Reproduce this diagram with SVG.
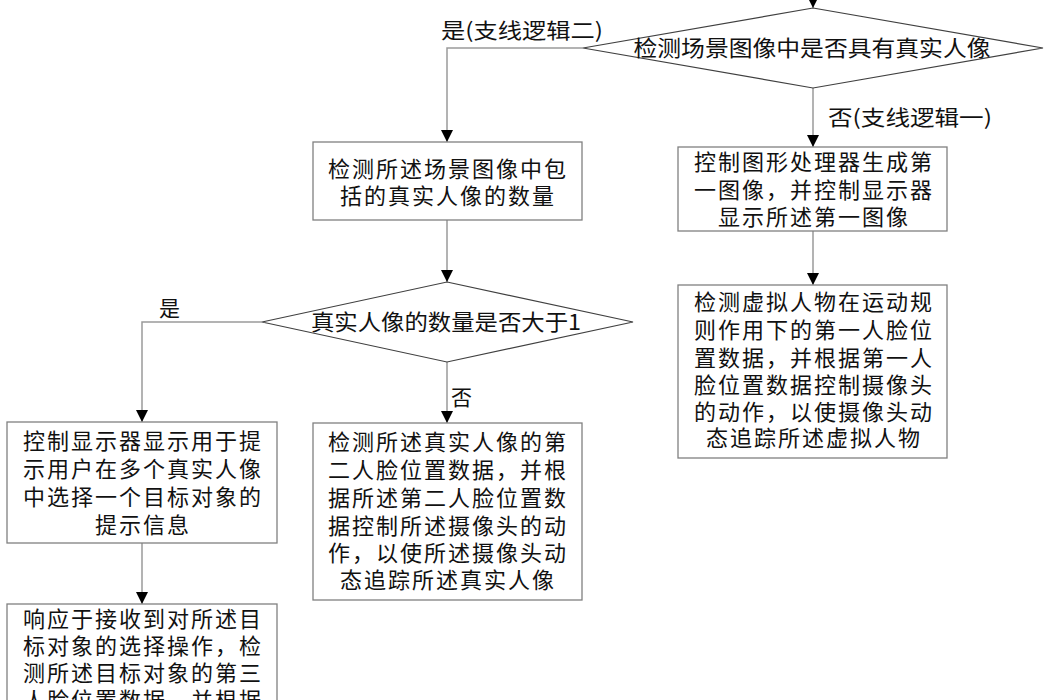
<svg xmlns="http://www.w3.org/2000/svg" width="1049" height="700" viewBox="0 0 1049 700">
<style>
.box{fill:#fff;stroke:#808080;stroke-width:1.3}
.dia{fill:#fff;stroke:#404040;stroke-width:1.2}
.con{fill:none;stroke:#9a9a9a;stroke-width:1.5}
text{font-family:"Noto Sans CJK SC","Noto Sans",sans-serif;fill:#111}
.t{font-size:22px;letter-spacing:2px;text-anchor:middle}
.d{font-size:22px;text-anchor:middle}
.l{font-size:21px}
</style>
<defs>
<marker id="ah" markerUnits="userSpaceOnUse" markerWidth="12" markerHeight="12" viewBox="0 0 12 12" refX="12" refY="6" orient="auto">
<path d="M0,0 L12,6 L0,12 Z" fill="#000"/>
</marker>
</defs>
<rect width="1049" height="700" fill="#fff"/>
<g id="connectors">
<path class="con" d="M813,-5 V8" marker-end="url(#ah)"/>
<path class="con" d="M583,48 H447 V142" marker-end="url(#ah)"/>
<path class="con" d="M813,88 V147" marker-end="url(#ah)"/>
<path class="con" d="M813,231 V285" marker-end="url(#ah)"/>
<path class="con" d="M447,220 V282" marker-end="url(#ah)"/>
<path class="con" d="M262,322 H142 V422" marker-end="url(#ah)"/>
<path class="con" d="M447,362 V423" marker-end="url(#ah)"/>
<path class="con" d="M142,543 V604" marker-end="url(#ah)"/>
<text class="l" x="441" y="38" textLength="162" lengthAdjust="spacingAndGlyphs">是(支线逻辑二)</text>
<text class="l" x="828" y="125" textLength="164" lengthAdjust="spacingAndGlyphs">否(支线逻辑一)</text>
<text class="l" x="159" y="316">是</text>
<text class="l" x="451" y="405">否</text>
</g>
<g id="decision1">
<polygon class="dia" points="813,8 1043,48 813,88 583,48"/>
<text class="d" x="812" y="56" textLength="357" lengthAdjust="spacingAndGlyphs">检测场景图像中是否具有真实人像</text>
</g>
<g id="box-count">
<rect class="box" x="313" y="142" width="269" height="78"/>
<text class="t" x="448" y="177">检测所述场景图像中包</text>
<text class="t" x="448" y="204">括的真实人像的数量</text>
</g>
<g id="box-gpu">
<rect class="box" x="678" y="147" width="269" height="84"/>
<text class="t" x="814" y="170">控制图形处理器生成第</text>
<text class="t" x="814" y="198">一图像，并控制显示器</text>
<text class="t" x="814" y="225">显示所述第一图像</text>
</g>
<g id="box-virtual">
<rect class="box" x="678" y="285" width="269" height="173"/>
<text class="t" x="814" y="310">检测虚拟人物在运动规</text>
<text class="t" x="814" y="338">则作用下的第一人脸位</text>
<text class="t" x="814" y="366">置数据，并根据第一人</text>
<text class="t" x="814" y="393">脸位置数据控制摄像头</text>
<text class="t" x="814" y="420">的动作，以使摄像头动</text>
<text class="t" x="814" y="446">态追踪所述虚拟人物</text>
</g>
<g id="decision2">
<polygon class="dia" points="447,282 633,322 447,362 262,322"/>
<text class="d" x="446" y="330" textLength="270" lengthAdjust="spacingAndGlyphs">真实人像的数量是否大于1</text>
</g>
<g id="box-prompt">
<rect class="box" x="7" y="422" width="270" height="121"/>
<text class="t" x="143" y="449">控制显示器显示用于提</text>
<text class="t" x="143" y="477">示用户在多个真实人像</text>
<text class="t" x="143" y="505">中选择一个目标对象的</text>
<text class="t" x="143" y="533">提示信息</text>
</g>
<g id="box-select">
<rect class="box" x="7" y="604" width="270" height="110"/>
<text class="t" x="143" y="627">响应于接收到对所述目</text>
<text class="t" x="143" y="654">标对象的选择操作，检</text>
<text class="t" x="143" y="681">测所述目标对象的第三</text>
<text class="t" x="143" y="708">人脸位置数据，并根据</text>
</g>
<g id="box-real">
<rect class="box" x="313" y="423" width="269" height="177"/>
<text class="t" x="448" y="450">检测所述真实人像的第</text>
<text class="t" x="448" y="478">二人脸位置数据，并根</text>
<text class="t" x="448" y="506">据所述第二人脸位置数</text>
<text class="t" x="448" y="534">据控制所述摄像头的动</text>
<text class="t" x="448" y="561">作，以使所述摄像头动</text>
<text class="t" x="448" y="588">态追踪所述真实人像</text>
</g>
</svg>
